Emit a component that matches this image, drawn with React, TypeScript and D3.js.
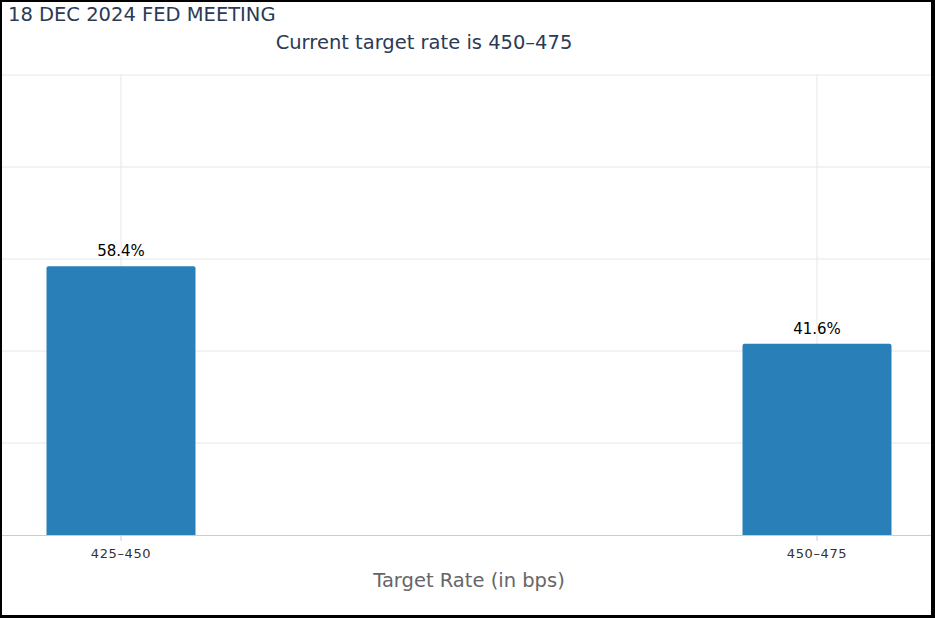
import React from "react";
import * as d3 from "d3";

const categories: string[] = ["425–450", "450–475"];
const probabilities: number[] = [58.4, 41.6];
const yTicks: number[] = [0, 20, 40, 60, 80, 100];
const title = "18 DEC 2024 FED MEETING";
const subtitle = "Current target rate is 450–475";
const xTitle = "Target Rate (in bps)";

const W = 935;
const H = 618;

export default function App() {
  const font = "'DejaVu Sans', Verdana, sans-serif";
  const x = d3.scalePoint<string>().domain(categories).range([121, 817]);
  const y = d3.scaleLinear().domain([0, 100]).range([535, 75]);
  const barW = 149;
  return (
    <svg width={W} height={H} style={{ position: "absolute", left: 0, top: 0, background: "#fff" }}>
      <rect x={0} y={0} width={W} height={H} fill="#fff" />
      {yTicks.filter((t) => t > 0).map((t) => (
        <line key={t} x1={2} x2={931} y1={y(t)} y2={y(t)} stroke="#e6e6e6" strokeWidth={1} />
      ))}
      {categories.map((c) => (
        <line key={c} x1={x(c)!} x2={x(c)!} y1={y(100)} y2={y(0)} stroke="#e6e6e6" strokeWidth={1} />
      ))}
      {categories.map((c, i) => (
        <g key={c}>
          <path
            d={`M${x(c)! - barW / 2},${y(0)} V${y(probabilities[i]) + 2} q0,-2 2,-2 H${x(c)! + barW / 2 - 2} q2,0 2,2 V${y(0)} Z`}
            fill="#2980b9"
          />
          <text x={x(c)!} y={y(probabilities[i]) - 10} textAnchor="middle" fontFamily={font} fontSize={15} fill="#000">
            {probabilities[i].toFixed(1)}%
          </text>
          <line x1={x(c)!} x2={x(c)!} y1={y(0)} y2={y(0) + 6} stroke="#ccc" />
          <text x={x(c)!} y={y(0) + 23} textAnchor="middle" fontFamily={font} fontSize={13} letterSpacing={0.6} fill="#333">
            {c}
          </text>
        </g>
      ))}
      <line x1={2} x2={931} y1={y(0) + 0.5} y2={y(0) + 0.5} stroke="#ccc" strokeWidth={1} />
      <text x={8} y={21} fontFamily={font} fontSize={19.5} fill="#2b3a55">{title}</text>
      <text x={424} y={49} textAnchor="middle" fontFamily={font} fontSize={19.5} fill="#2b3a55">{subtitle}</text>
      <text x={469} y={587} textAnchor="middle" fontFamily={font} fontSize={19.5} fill="#666">{xTitle}</text>
      <rect x={0} y={0} width={2} height={H} fill="#000" />
      <rect x={0} y={0} width={W} height={2} fill="#000" />
      <rect x={931} y={0} width={4} height={H} fill="#000" />
      <rect x={0} y={615} width={W} height={3} fill="#000" />
    </svg>
  );
}
